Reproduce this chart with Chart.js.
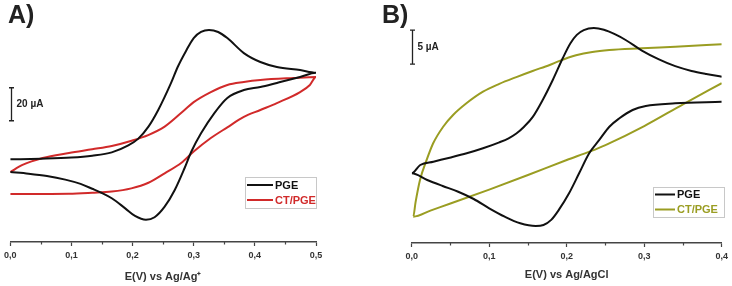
<!DOCTYPE html>
<html>
<head>
<meta charset="utf-8">
<script src="https://cdn.jsdelivr.net/npm/chart.js@4"></script>
<style>
    body { margin: 0; background: #fff; }
    #wrap { position: relative; width: 732px; height: 286px; }
    canvas { position: absolute; top: 0; }
    #chart-a { left: 0; }
    #chart-b { left: 366px; }
    .panel-tag { position: absolute; top: 2px; font: bold 25px/25px "Liberation Sans", Arial, sans-serif; color: #222; }
</style>
</head>
<body>
<div id="wrap">
    <canvas id="chart-a" width="366" height="286"></canvas>
    <canvas id="chart-b" width="366" height="286"></canvas>
    <div class="panel-tag" style="left:8px">A)</div>
    <div class="panel-tag" style="left:382px">B)</div>
</div>
<script>
// Panel A: E (V vs Ag/Ag+) and current (uA, arbitrary offset)
// the switching potential is listed twice so the sweep turns sharply there
const potentialA_PGE = [0, 0.05, 0.10, 0.134, 0.166, 0.193, 0.209, 0.226, 0.242, 0.263, 0.274, 0.287, 0.30, 0.312, 0.325, 0.34, 0.355, 0.382, 0.409, 0.436, 0.474, 0.50,
    0.50, 0.474, 0.436, 0.409, 0.382, 0.355, 0.3335, 0.312, 0.296, 0.285, 0.269, 0.2525, 0.236, 0.222, 0.204, 0.188, 0.166, 0.15, 0.134, 0.115, 0.09, 0.06, 0.03, 0];
const currentA_PGE = [50.1, 50.5, 51.2, 52.3, 54.3, 58.5, 62.5, 69.9, 80, 96.4, 106.2, 115.5, 123.6, 127.3, 128.5, 127.3, 123.6, 114.5, 109.1, 106.1, 104.2, 102.6,
    102.6, 100, 96.4, 93.9, 92.1, 87.3, 78, 65.9, 54.7, 44.7, 31.5, 21.4, 15, 13.5, 15.8, 20.4, 26.5, 29.7, 32.3, 35.2, 37.8, 40, 41.4, 42.4];
const potentialA_CT = [0, 0.096, 0.134, 0.166, 0.198, 0.226, 0.2525, 0.28, 0.30, 0.328, 0.355, 0.382, 0.409, 0.436, 0.474, 0.49, 0.50,
    0.50, 0.463, 0.409, 0.382, 0.355, 0.328, 0.30, 0.285, 0.2525, 0.2256, 0.1985, 0.166, 0.134, 0.096, 0.053, 0.02, 0];
const currentA_CT = [29.1, 29.3, 29.9, 30.6, 32.5, 35.9, 41.6, 48, 54.8, 63, 69.5, 75.8, 80, 84.2, 90.9, 95.2, 100,
    100, 99.4, 98.2, 97, 95.2, 90.9, 84.8, 80, 69.9, 64.8, 61.4, 58.2, 56.2, 53.9, 50.9, 46.7, 42.4];

// Panel B: E (V vs Ag/AgCl) and current (uA, arbitrary offset)
const potentialB_PGE = [0.4, 0.34, 0.302, 0.285, 0.268, 0.255, 0.242, 0.229, 0.216, 0.203, 0.19, 0.18, 0.17, 0.16, 0.14, 0.12, 0.10, 0.08, 0.06, 0.04, 0.02, 0,
    0, 0.011, 0.028, 0.049, 0.071, 0.092, 0.113, 0.125, 0.135, 0.145, 0.156, 0.169, 0.182, 0.195, 0.205, 0.213, 0.222, 0.235, 0.248, 0.262, 0.276, 0.297, 0.319, 0.34, 0.361, 0.38, 0.4];
const currentB_PGE = [20.78, 20.54, 20.15, 19.56, 18.34, 17.1, 15.15, 13.19, 10.25, 7.31, 4.9, 3.4, 2.65, 2.5, 2.9, 3.87, 5.1, 6.47, 7.54, 8.38, 9.26, 10.25,
    10.25, 11.47, 11.96, 12.54, 13.19, 13.93, 14.8, 15.4, 16.1, 17.1, 18.5, 21.03, 23.97, 27.2, 29.4, 30.6, 31.3, 31.6, 31.35, 30.7, 29.85, 28.3, 27.0, 26.0, 25.3, 24.85, 24.46];
const potentialB_CT = [0.4, 0.35, 0.3, 0.25, 0.231, 0.2, 0.15, 0.1, 0.05, 0.025, 0.002,
    0.002, 0.005, 0.0107, 0.0193, 0.0277, 0.0406, 0.0534, 0.0706, 0.092, 0.113, 0.135, 0.156, 0.178, 0.19, 0.212, 0.233, 0.255, 0.297, 0.34, 0.4];
const currentB_CT = [23.49, 20.4, 17.2, 14.4, 13.5, 12.2, 10.0, 7.85, 5.8, 4.8, 3.87,
    3.87, 6.0, 9.26, 12.21, 14.66, 17.1, 18.82, 20.54, 22.25, 23.4, 24.4, 25.3, 26.18, 26.75, 27.6, 28.1, 28.38, 28.63, 28.87, 29.22];

const seriesLabels = ["PGE", "CT/PGE"];

const FONT = '"Liberation Sans", Arial, sans-serif';
const toPoints = (xs, ys) => xs.map((x, i) => ({ x: x, y: ys[i] }));

// scale bar, minor ticks and boxed legend drawn on top of the plot
const cvDecor = {
    id: "cvDecor",
    afterDraw(chart, args, opts) {
        const { ctx, scales: { x, y } } = chart;
        ctx.save();
        const bx = Math.round(x.getPixelForValue(opts.bar.at)) + 0.5;
        const y1 = y.getPixelForValue(opts.bar.from);
        const y2 = y.getPixelForValue(opts.bar.to);
        ctx.strokeStyle = "#222";
        ctx.lineWidth = 1.3;
        ctx.beginPath();
        ctx.moveTo(bx, y1); ctx.lineTo(bx, y2);
        ctx.moveTo(bx - 2.5, y1); ctx.lineTo(bx + 2.5, y1);
        ctx.moveTo(bx - 2.5, y2); ctx.lineTo(bx + 2.5, y2);
        ctx.stroke();
        ctx.fillStyle = "#222";
        ctx.font = "bold 10px " + FONT;
        ctx.textBaseline = "middle";
        ctx.fillText(opts.bar.label, bx + 5, (y1 + y2) / 2);

        // short minor ticks halfway between the labelled ones
        const axisY = chart.chartArea.bottom;
        ctx.strokeStyle = "#444";
        ctx.lineWidth = 1.2;
        ctx.beginPath();
        for (let v = 0.05; v < x.max; v += 0.1) {
            const px = Math.round(x.getPixelForValue(v)) + 0.5;
            ctx.moveTo(px, axisY);
            ctx.lineTo(px, axisY + 2.5);
        }
        ctx.stroke();

        const L = opts.legend;
        ctx.strokeStyle = "#c8c8c8";
        ctx.lineWidth = 1;
        ctx.strokeRect(L.left + 0.5, L.top + 0.5, L.width, L.height);
        ctx.font = "bold 11px " + FONT;
        chart.data.datasets.forEach((ds, i) => {
            const ry = L.top + L.first + i * L.gap;
            ctx.strokeStyle = ds.borderColor;
            ctx.lineWidth = 2;
            ctx.beginPath();
            ctx.moveTo(L.left + 2, ry);
            ctx.lineTo(L.left + 2 + L.line, ry);
            ctx.stroke();
            ctx.fillStyle = ds.borderColor;
            ctx.fillText(ds.label, L.left + 4 + L.line, ry + 0.5);
        });
        ctx.restore();
    },
};

function makeChart(el, cfg) {
    return new Chart(el, {
        type: "scatter",
        data: {
            datasets: [
                {
                    label: seriesLabels[0],
                    data: toPoints(cfg.pgeE, cfg.pgeI),
                    borderColor: "#111111",
                    showLine: true,
                    pointRadius: 0,
                    borderWidth: 2,
                    cubicInterpolationMode: "monotone",
                },
                {
                    label: seriesLabels[1],
                    data: toPoints(cfg.ctE, cfg.ctI),
                    borderColor: cfg.ctColor,
                    showLine: true,
                    pointRadius: 0,
                    borderWidth: 2,
                    cubicInterpolationMode: "monotone",
                },
            ],
        },
        options: {
            responsive: false,
            animation: false,
            devicePixelRatio: 1,
            layout: { padding: cfg.padding },
            plugins: {
                legend: { display: false },
                tooltip: { enabled: false },
                cvDecor: { bar: cfg.bar, legend: cfg.legend },
            },
            scales: {
                x: {
                    type: "linear",
                    min: 0,
                    max: cfg.xMax,
                    afterFit: (scale) => { scale.height = cfg.axisHeight; },
                    border: { display: true, color: "#444", width: 1.5 },
                    grid: { drawOnChartArea: false, drawTicks: true, tickLength: 4, color: "#444", tickWidth: 1.2 },
                    ticks: {
                        stepSize: 0.1,
                        autoSkip: false,
                        maxRotation: 0,
                        padding: 4,
                        color: "#333",
                        font: { family: FONT, size: 9, weight: "bold" },
                        callback: (v) => v.toFixed(1).replace(".", ","),
                    },
                    title: {
                        display: true,
                        text: cfg.xTitle,
                        color: "#333",
                        font: { family: FONT, size: 11, weight: "bold" },
                        padding: { top: 0, bottom: cfg.titlePad },
                    },
                },
                y: {
                    display: false,
                    min: 0,
                    max: cfg.yMax,
                },
            },
        },
        plugins: [cvDecor],
    });
}

document.addEventListener("DOMContentLoaded", () => {
    makeChart(document.querySelector("#chart-a"), {
        pgeE: potentialA_PGE, pgeI: currentA_PGE,
        ctE: potentialA_CT, ctI: currentA_CT,
        ctColor: "#d12a2a",
        xMax: 0.5,
        yMax: 134.55,
        xTitle: "E(V) vs Ag/Ag\u207A",
        padding: { top: 20, left: 7.5, right: 50, bottom: 0 },
        axisHeight: 44,
        titlePad: 2,
        bar: { at: 0.001, from: 73.5, to: 93.5, label: "20 \u00B5A" },
        legend: { left: 245, top: 177, width: 71, height: 31, first: 8, gap: 15, line: 26 },
    });

    makeChart(document.querySelector("#chart-b"), {
        pgeE: potentialB_PGE, pgeI: currentB_PGE,
        ctE: potentialB_CT, ctI: currentB_CT,
        ctColor: "#9a9d22",
        xMax: 0.4,
        yMax: 32.79,
        xTitle: "E(V) vs Ag/AgCl",
        padding: { top: 20, left: 45.7, right: 8.7, bottom: 0 },
        axisHeight: 43,
        titlePad: 4,
        bar: { at: 0, from: 26.3, to: 31.3, label: "5 \u00B5A" },
        legend: { left: 287, top: 187, width: 71, height: 30, first: 7.5, gap: 15, line: 20 },
    });
});
</script>
</body>
</html>
